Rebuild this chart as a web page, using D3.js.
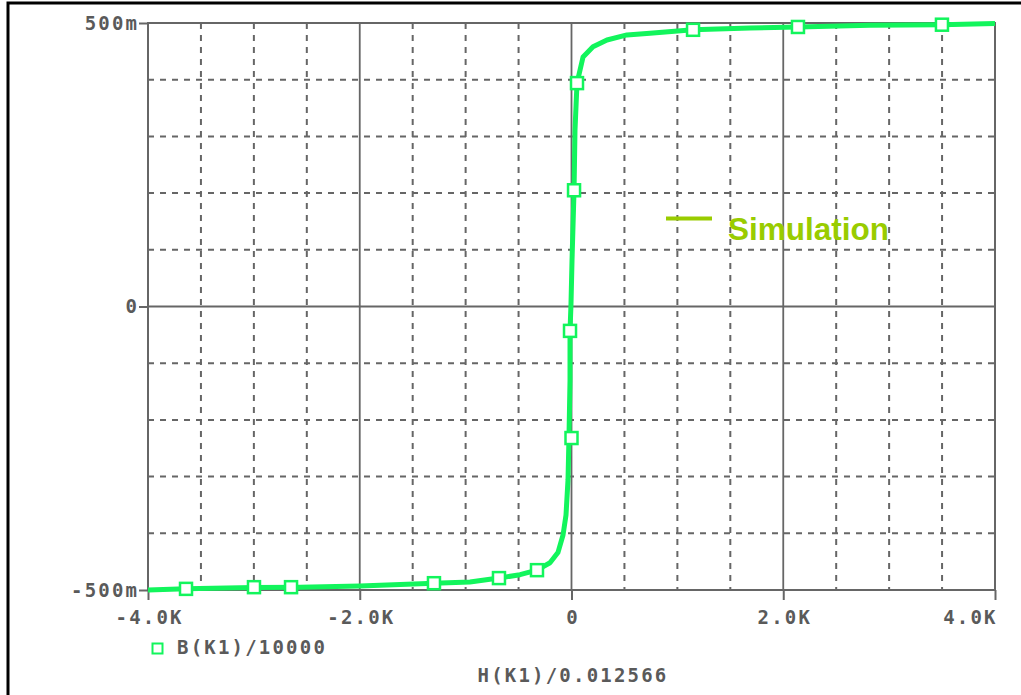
<!DOCTYPE html>
<html>
<head>
<meta charset="utf-8">
<script src="https://cdn.jsdelivr.net/npm/d3@7"></script>
<style>
  html, body { margin: 0; padding: 0; background: #fff; }
  svg { display: block; }
  .axis text, .lbl { font-family: "DejaVu Sans Mono", monospace; font-weight: bold; font-size: 19px; fill: #5a5a5a; letter-spacing: 2.2px; }
</style>
</head>
<body>
<svg id="chart" width="1021" height="695"></svg>
<script>
// H (A/m) / B (T) trace
const hValues = [-4000, -3641, -3131, -2564, -1998, -1299, -959, -685, -486, -326, -203, -128, -80, -52, -33, -24, -14, -14, -5, 5, 24, 33, 52, 109, 203, 335, 524, 741, 1148, 1686, 2139, 2819, 3499, 4000];
const bValues = [-0.500, -0.498, -0.496, -0.495, -0.493, -0.488, -0.486, -0.479, -0.473, -0.465, -0.452, -0.434, -0.403, -0.368, -0.306, -0.232, -0.130, -0.043, 0.003, 0.082, 0.205, 0.311, 0.394, 0.440, 0.458, 0.470, 0.479, 0.482, 0.488, 0.491, 0.493, 0.496, 0.497, 0.499];

// trace markers (every Nth point in the probe output)
const markerH = [-3641, -2999, -2649, -1299, -685, -326, 0, -14, 24, 52, 1148, 2139, 3499];
const markerB = [-0.498, -0.495, -0.495, -0.488, -0.479, -0.465, -0.232, -0.043, 0.205, 0.394, 0.488, 0.493, 0.497];

const xTicks = [-4000, -2000, 0, 2000, 4000];
const yTicks = [-0.5, 0, 0.5];
const xGridMinor = d3.range(-3500, 4000, 500).filter(v => v % 2000 !== 0);
const yGridMinor = [-0.4, -0.3, -0.2, -0.1, 0.1, 0.2, 0.3, 0.4];

const traceName = "B(K1)/10000";
const xTitle = "H(K1)/0.012566";
const noteText = "Simulation";

const GREEN = "#12f55c";
const GRID = "#666";
const NOTE = "#99cc00";
const LS = 2.2;

const svg = d3.select("#chart");

const x = d3.scaleLinear().domain([-4000, 4000]).range([148, 995]);
const y = d3.scaleLinear().domain([-0.5, 0.5]).range([590, 23]);

// outer frame (left + top only visible)
svg.append("path")
  .attr("d", "M8,695 L8,3 L1021,3")
  .attr("fill", "none")
  .attr("stroke", "#000")
  .attr("stroke-width", 3);

// grid
const grid = svg.append("g");
grid.selectAll("line.vx")
  .data(xGridMinor)
  .enter().append("line")
  .attr("x1", d => x(d)).attr("x2", d => x(d))
  .attr("y1", y(0.5)).attr("y2", y(-0.5))
  .attr("stroke", GRID).attr("stroke-width", 2)
  .attr("stroke-dasharray", "6,6");
grid.selectAll("line.hy")
  .data(yGridMinor)
  .enter().append("line")
  .attr("x1", x(-4000)).attr("x2", x(4000))
  .attr("y1", d => y(d)).attr("y2", d => y(d))
  .attr("stroke", GRID).attr("stroke-width", 2)
  .attr("stroke-dasharray", "6,6");
grid.selectAll("line.vmaj")
  .data([-2000, 0, 2000])
  .enter().append("line")
  .attr("x1", d => x(d)).attr("x2", d => x(d))
  .attr("y1", y(0.5)).attr("y2", y(-0.5))
  .attr("stroke", GRID).attr("stroke-width", 1.8);
grid.append("line")
  .attr("x1", x(-4000)).attr("x2", x(4000))
  .attr("y1", y(0)).attr("y2", y(0))
  .attr("stroke", GRID).attr("stroke-width", 1.8);

// plot frame
svg.append("rect")
  .attr("x", x(-4000)).attr("y", y(0.5))
  .attr("width", x(4000) - x(-4000)).attr("height", y(-0.5) - y(0.5))
  .attr("fill", "none").attr("stroke", GRID).attr("stroke-width", 2);

// axes
const fmtX = d => d === 0 ? "0" : (d / 1000).toFixed(1) + "K";
const fmtY = d => d === 0 ? "0" : Math.round(d * 1000) + "m";

const xAxis = svg.append("g")
  .attr("class", "axis")
  .attr("transform", `translate(0,${y(-0.5)})`)
  .call(d3.axisBottom(x).tickValues(xTicks).tickFormat(fmtX).tickSize(10).tickSizeOuter(0).tickPadding(11));
const yAxis = svg.append("g")
  .attr("class", "axis")
  .attr("transform", `translate(${x(-4000)},0)`)
  .call(d3.axisLeft(y).tickValues(yTicks).tickFormat(fmtY).tickSize(9).tickSizeOuter(0).tickPadding(2));

[xAxis, yAxis].forEach(g => {
  g.select(".domain").remove();
  g.selectAll(".tick line").attr("stroke", GRID).attr("stroke-width", 2);
  g.selectAll(".tick text").attr("fill", "#5a5a5a");
});
// letter-spacing adds trailing gap, pull labels back
yAxis.selectAll(".tick text").attr("dx", LS);
xAxis.selectAll(".tick text").attr("dx", LS / 2);
xAxis.selectAll(".tick").filter(d => d === 4000).select("text")
  .attr("text-anchor", "end").attr("dx", LS);

// trace
const line = d3.line()
  .x((d, i) => x(hValues[i]))
  .y((d, i) => y(bValues[i]));

svg.append("path")
  .datum(hValues)
  .attr("d", line)
  .attr("fill", "none")
  .attr("stroke", GREEN)
  .attr("stroke-width", 5)
  .attr("stroke-linejoin", "round");

svg.selectAll("rect.mk")
  .data(markerH)
  .enter().append("rect")
  .attr("class", "mk")
  .attr("x", (d, i) => x(d) - 6)
  .attr("y", (d, i) => y(markerB[i]) - 6)
  .attr("width", 12).attr("height", 12)
  .attr("fill", "#fff")
  .attr("stroke", GREEN)
  .attr("stroke-width", 2.5);

// trace legend
svg.append("rect")
  .attr("x", 152.5).attr("y", 643.5).attr("width", 10).attr("height", 10)
  .attr("fill", "none").attr("stroke", GREEN).attr("stroke-width", 2);
svg.append("text")
  .attr("class", "lbl")
  .attr("x", 177).attr("y", 654)
  .text(traceName);

// x title
svg.append("text")
  .attr("class", "lbl")
  .attr("x", 573).attr("y", 682)
  .attr("text-anchor", "middle")
  .text(xTitle);

// annotation
svg.append("line")
  .attr("x1", 666).attr("x2", 712)
  .attr("y1", 218.5).attr("y2", 218.5)
  .attr("stroke", NOTE).attr("stroke-width", 4);
svg.append("text")
  .attr("x", 728).attr("y", 240)
  .attr("font-family", "Liberation Sans, Arial, sans-serif")
  .attr("font-weight", "bold")
  .attr("font-size", 31.5)
  .attr("fill", NOTE)
  .text(noteText);
</script>
</body>
</html>
